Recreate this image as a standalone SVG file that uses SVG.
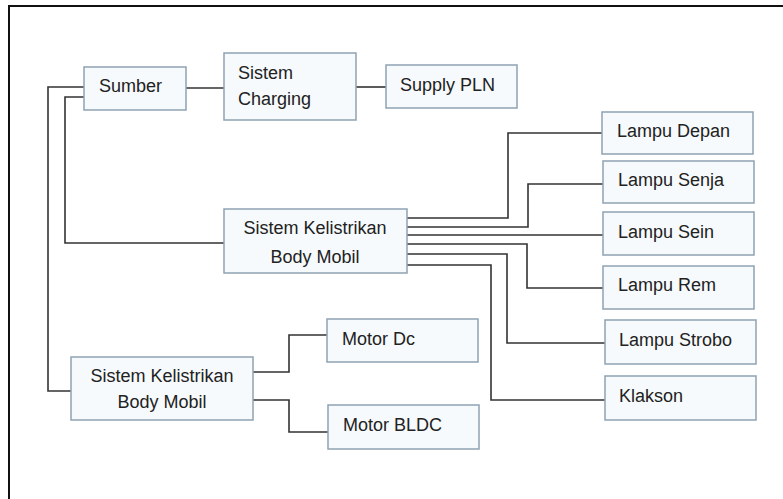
<svg xmlns="http://www.w3.org/2000/svg" width="783" height="499" viewBox="0 0 783 499">
<style>
.box{fill:#f6fafc;stroke:#8fa3b2;stroke-width:1.5}
.t{font-family:"Liberation Sans",Arial,sans-serif;font-size:18px;fill:#222}
.c{text-anchor:middle}
.ln{fill:none;stroke:#333;stroke-width:1.6}
.fr{fill:none;stroke:#111;stroke-width:2}
</style>
<rect x="0" y="0" width="783" height="499" fill="#fff"/>
<path class="fr" d="M9,499 V6 H783"/>
<g id="connectors">
<path class="ln" d="M186,88 H224"/>
<path class="ln" d="M356,87 H386"/>
<path class="ln" d="M84,87 H48 V391 H71"/>
<path class="ln" d="M84,97 H65 V243 H224"/>
<path class="ln" d="M253,372 H289 V335 H327"/>
<path class="ln" d="M253,400 H289 V432 H328"/>
<path class="ln" d="M407,218 H508 V133 H602"/>
<path class="ln" d="M407,227 H528 V184 H603"/>
<path class="ln" d="M407,235 H603"/>
<path class="ln" d="M407,244 H527 V288 H603"/>
<path class="ln" d="M407,254 H507 V343 H605"/>
<path class="ln" d="M407,265 H491 V400 H605"/>
</g>
<g id="sumber"><rect class="box" x="84" y="67" width="102" height="43"/><text class="t" x="99" y="92">Sumber</text></g>
<g id="charging"><rect class="box" x="224" y="53" width="132" height="67"/><text class="t" x="238" y="79">Sistem</text><text class="t" x="238" y="105">Charging</text></g>
<g id="supply"><rect class="box" x="386" y="65" width="131" height="43"/><text class="t" x="400" y="91">Supply PLN</text></g>
<g id="body1"><rect class="box" x="224" y="209" width="183" height="64"/><text class="t c" x="315" y="234">Sistem Kelistrikan</text><text class="t c" x="315" y="263">Body Mobil</text></g>
<g id="depan"><rect class="box" x="602" y="112" width="151" height="42"/><text class="t" x="617" y="137">Lampu Depan</text></g>
<g id="senja"><rect class="box" x="603" y="161" width="151" height="42"/><text class="t" x="618" y="186">Lampu Senja</text></g>
<g id="sein"><rect class="box" x="603" y="212" width="151" height="43"/><text class="t" x="618" y="238">Lampu Sein</text></g>
<g id="rem"><rect class="box" x="603" y="266" width="151" height="43"/><text class="t" x="618" y="291">Lampu Rem</text></g>
<g id="strobo"><rect class="box" x="605" y="320" width="151" height="44"/><text class="t" x="619" y="346">Lampu Strobo</text></g>
<g id="klakson"><rect class="box" x="605" y="376" width="151" height="44"/><text class="t" x="619" y="402">Klakson</text></g>
<g id="motordc"><rect class="box" x="327" y="319" width="151" height="43"/><text class="t" x="342" y="345">Motor Dc</text></g>
<g id="bldc"><rect class="box" x="328" y="405" width="151" height="44"/><text class="t" x="343" y="431">Motor BLDC</text></g>
<g id="body2"><rect class="box" x="71" y="357" width="182" height="63"/><text class="t c" x="162" y="382">Sistem Kelistrikan</text><text class="t c" x="162" y="408">Body Mobil</text></g>
</svg>
